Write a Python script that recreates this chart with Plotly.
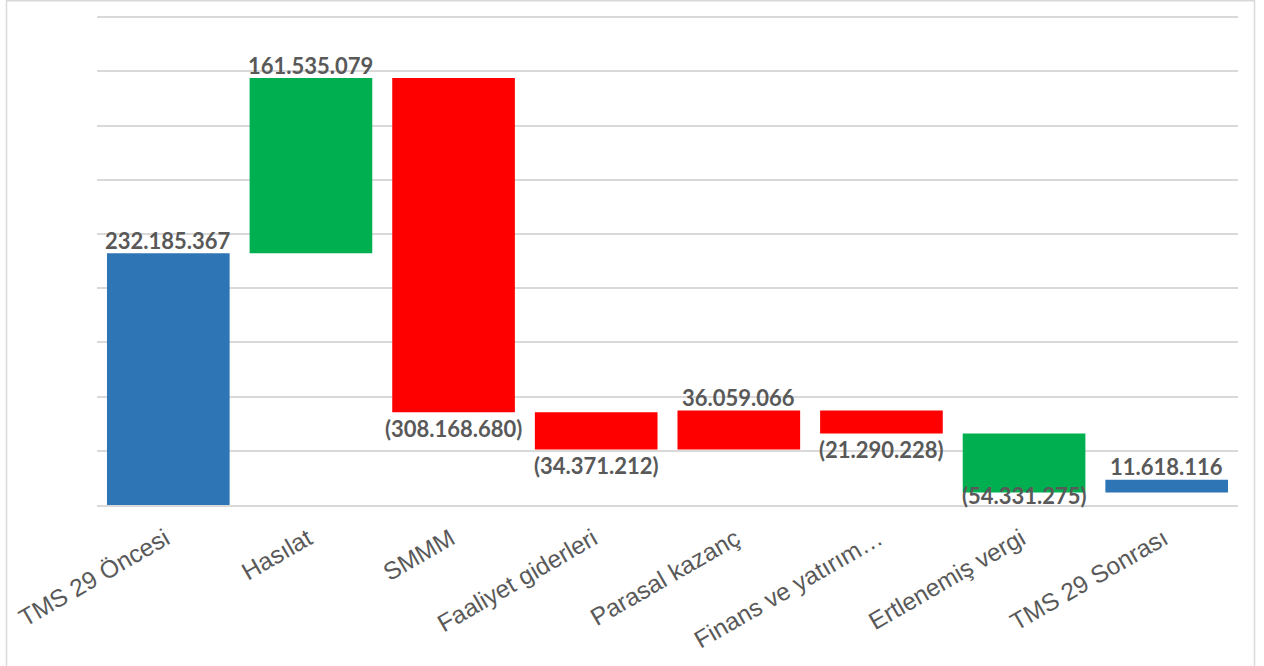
import plotly.graph_objects as go

# ---- data ----
categories = ["TMS 29 Öncesi", "Hasılat", "SMMM", "Faaliyet giderleri",
              "Parasal kazanç", "Finans ve yatırım…", "Ertlenemiş vergi", "TMS 29 Sonrası"]
values = [232185367, 161535079, -308168680, -34371212, 36059066, -21290228, -54331275, 11618116]
measures = ["absolute", "relative", "relative", "relative", "relative", "relative", "relative", "relative"]
bar_colors = ["#2E75B6", "#00B050", "#FF0000", "#FF0000", "#FF0000", "#FF0000", "#00B050", "#2E75B6"]

# ---- layout constants ----
W, H = 1264, 666
M_L, M_R, M_T, M_B = 97, 26, 16, 161
Y_MAX = 451e6
plot_h = H - M_T - M_B
plot_w = W - M_L - M_R
px_per_unit = plot_h / Y_MAX
TEXT_COLOR = "#595959"
GRID_COLOR = "#d9d9d9"


def fmt(v):
    s = f"{abs(v):,}".replace(",", ".")
    return f"({s})" if v < 0 else s


# running totals -> bar bases
bases = []
running = 0
for v, m in zip(values, measures):
    if m == "absolute":
        bases.append(0)
        running = v
    else:
        bases.append(running)
        running += v

fig = go.Figure()
fig.add_trace(go.Bar(
    x=categories, y=values, base=bases,
    marker=dict(color=bar_colors, line=dict(width=0)),
    width=0.86, hoverinfo="skip", showlegend=False,
))

label_h_px = 30
annotations = []
for c, v, b in zip(categories, values, bases):
    end = b + v
    if v >= 0:
        annotations.append(dict(x=c, y=end, yanchor="bottom", yshift=-2.5))
    else:
        if end - (label_h_px + 2) / px_per_unit < 0:
            annotations.append(dict(x=c, y=0, yanchor="bottom", yshift=-6))
        else:
            annotations.append(dict(x=c, y=end, yanchor="top", yshift=-0.5))
    annotations[-1].update(
        text=f"<b>{fmt(v)}</b>", showarrow=False, xref="x", yref="y",
        font=dict(family="Lato", size=22, color=TEXT_COLOR),
    )

fig.update_layout(
    width=W, height=H,
    margin=dict(l=M_L, r=M_R, t=M_T, b=M_B),
    paper_bgcolor="white", plot_bgcolor="white",
    bargap=0.14, hovermode=False,
    annotations=annotations,
    shapes=[dict(
        type="rect", xref="paper", yref="paper",
        x0=(6.5 - M_L) / plot_w, x1=(1254.5 - M_L) / plot_w,
        y0=-(M_B + 10) / plot_h, y1=(plot_h + M_T - 0.75) / plot_h,
        line=dict(color=GRID_COLOR, width=1.5), fillcolor="rgba(0,0,0,0)", layer="below",
    )],
    xaxis=dict(
        tickangle=-30, showgrid=False, zeroline=False,
        showline=True, linecolor=GRID_COLOR, linewidth=2,
        ticks="", ticklabelstandoff=8, ticklabelshift=-3,
        tickfont=dict(family="Liberation Sans, Arial", size=24.5, color=TEXT_COLOR),
        range=[-0.5, len(categories) - 0.5],
    ),
    yaxis=dict(
        range=[0, Y_MAX], dtick=50e6, showticklabels=False,
        showgrid=True, gridcolor=GRID_COLOR, gridwidth=2, zeroline=False,
    ),
)

fig.write_html(
    "out.html",
    config={"displayModeBar": False, "staticPlot": True},
    post_script="document.body.style.margin='0';document.body.style.overflow='hidden';",
)
